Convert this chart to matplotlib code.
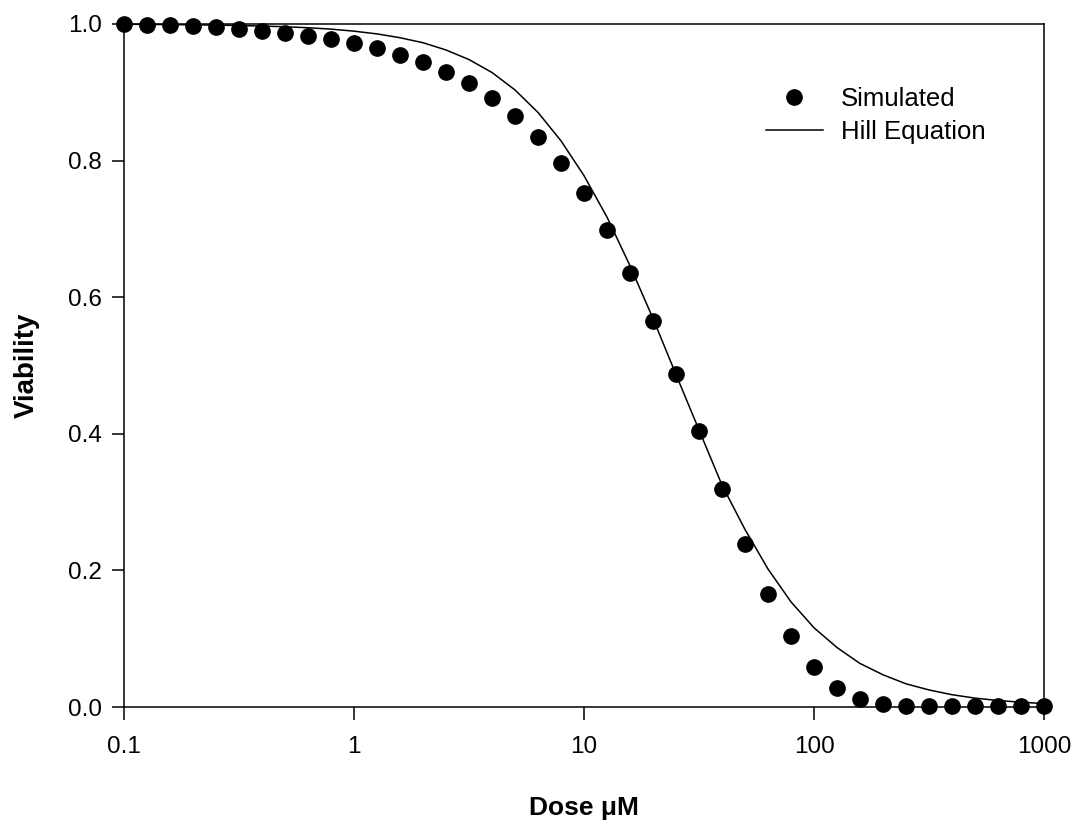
import numpy as np
import matplotlib
matplotlib.use("Agg")
import matplotlib.pyplot as plt

plt.rcParams['font.family'] = ['Liberation Sans', 'DejaVu Sans']

# Dose values (log spaced, 10 per decade) for the simulated points
dose = [0.1, 0.126, 0.158, 0.2, 0.251, 0.316, 0.398, 0.501, 0.631, 0.794,
        1.0, 1.26, 1.58, 2.0, 2.51, 3.16, 3.98, 5.01, 6.31, 7.94,
        10.0, 12.6, 15.8, 20.0, 25.1, 31.6, 39.8, 50.1, 63.1, 79.4,
        100.0, 126.0, 158.0, 200.0, 251.0, 316.0, 398.0, 501.0, 631.0, 794.0, 1000.0]

simulated = [1.000, 0.999, 0.998, 0.997, 0.995, 0.993, 0.990, 0.987, 0.983, 0.978,
             0.972, 0.965, 0.955, 0.944, 0.930, 0.913, 0.892, 0.866, 0.835, 0.797,
             0.752, 0.698, 0.635, 0.565, 0.487, 0.404, 0.319, 0.238, 0.165, 0.104,
             0.058, 0.028, 0.012, 0.004, 0.002, 0.001, 0.001, 0.001, 0.001, 0.001, 0.001]

# Hill equation curve
hill_dose = dose
hill = [0.9996, 0.9994, 0.9991, 0.9988, 0.9984, 0.9978, 0.9970, 0.9960, 0.9945, 0.9925,
        0.9895, 0.9855, 0.9800, 0.9725, 0.9620, 0.9480, 0.9290, 0.9035, 0.8705, 0.8290,
        0.7780, 0.7170, 0.6470, 0.5680, 0.4870, 0.4060, 0.3250, 0.2600, 0.2020, 0.1540,
        0.1160, 0.0870, 0.0640, 0.0470, 0.0340, 0.0250, 0.0180, 0.0130, 0.0095, 0.0070, 0.0050]

xticks = [0.1, 1, 10, 100, 1000]
xtick_labels = ['0.1', '1', '10', '100', '1000']
yticks = [0.0, 0.2, 0.4, 0.6, 0.8, 1.0]
ytick_labels = ['0.0', '0.2', '0.4', '0.6', '0.8', '1.0']

fig = plt.figure(figsize=(10.78, 8.27), dpi=100)
ax = fig.add_axes([124/1078, 1-707/827, 920/1078, 683/827])

ax.plot(dose, simulated, linestyle='none', marker='o', markersize=11,
        color='black', label='Simulated', clip_on=False, zorder=3)
ax.plot(hill_dose, hill, color='black', linewidth=1.1, label='Hill Equation',
        clip_on=False, zorder=2)

ax.set_xscale('log')
ax.set_xlim(0.1, 1000)
ax.set_ylim(0.0, 1.0)
ax.set_xticks(xticks)
ax.set_xticklabels(xtick_labels)
ax.set_yticks(yticks)
ax.set_yticklabels(ytick_labels)
ax.minorticks_off()
ax.tick_params(axis='both', direction='out', length=9, width=1.1, labelsize=17.5)
ax.tick_params(axis='x', pad=12)
ax.tick_params(axis='y', pad=7)
ax.tick_params(top=False, right=False)
for s in ax.spines.values():
    s.set_linewidth(1.1)

ax.set_xlabel('Dose μM', fontsize=19, fontweight='bold', labelpad=27)
ax.set_ylabel('Viability', fontsize=20, fontweight='bold', labelpad=20)

leg = ax.legend(loc='upper left', bbox_to_anchor=(0.698, 0.908), frameon=False,
                fontsize=18.5, handlelength=2.2, handletextpad=0.7, borderpad=0,
                labelspacing=0.35, borderaxespad=0, markerscale=1.0)

fig.savefig('out.png', dpi=100)
